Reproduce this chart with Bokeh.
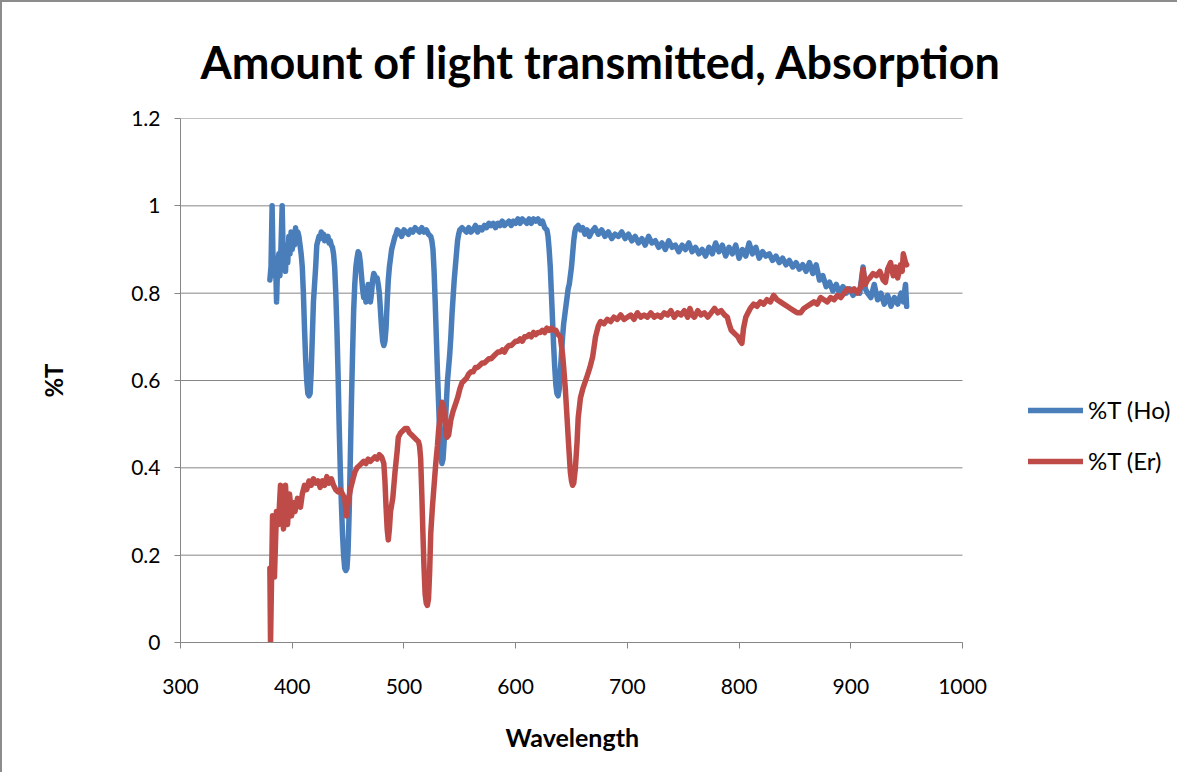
from bokeh.plotting import figure
from bokeh.models import FixedTicker, Legend, LegendItem, Range1d, Title
from bokeh.embed import file_html
from bokeh.resources import INLINE

# ---------------- data ----------------
title_text = "Amount of light transmitted, Absorption"
x_label = "Wavelength"
y_label = "%T"
series_names = ["%T (Ho)", "%T (Er)"]
x_ticks = [300, 400, 500, 600, 700, 800, 900, 1000]
y_ticks = [0, 0.2, 0.4, 0.6, 0.8, 1.0, 1.2]
y_tick_labels = ["0", "0.2", "0.4", "0.6", "0.8", "1", "1.2"]

ho_wl = [380, 381, 382, 383, 384, 385, 386, 387, 388, 389, 390, 391, 392, 393, 394, 395, 396, 397, 398, 399,
         400, 401, 402, 403, 404, 405, 406, 407, 408, 409, 410, 411, 412, 413, 414, 415, 416, 417, 418, 419,
         420, 421, 422, 423, 424, 425, 426, 427, 428, 429, 430, 431, 432, 433, 434, 435, 436, 437, 438, 439,
         440, 441, 442, 443, 444, 445, 446, 447, 448, 449, 450, 451, 452, 453, 454, 455, 456, 457, 458, 459,
         460, 461, 462, 463, 464, 465, 466, 467, 468, 469, 470, 471, 472, 473, 474, 475, 476, 477, 478, 479,
         480, 481, 482, 483, 484, 485, 486, 487, 488, 489, 490, 491, 492, 493, 494, 496, 498, 500, 502, 504,
         506, 508, 510, 512, 514, 516, 518, 520, 522, 524, 525, 526, 527, 528, 529, 530, 531, 532, 533, 534,
         535, 536, 537, 538, 539, 540, 541, 542, 543, 544, 545, 546, 547, 548, 549, 550, 552, 554, 556, 558,
         560, 562, 564, 566, 568, 570, 572, 574, 576, 578, 580, 582, 584, 586, 588, 590, 592, 594, 596, 598,
         600, 602, 604, 606, 608, 610, 612, 614, 616, 618, 620, 622, 624, 626, 628, 629, 630, 631, 632, 633,
         634, 635, 636, 637, 638, 639, 640, 641, 642, 643, 644, 645, 646, 647, 648, 649, 650, 651, 652, 653,
         654, 656, 658, 660, 662, 664, 666, 668, 671, 674, 677, 680, 683, 686, 689, 692, 695, 698, 701, 704,
         707, 710, 713, 716, 719, 722, 725, 728, 731, 734, 737, 740, 743, 746, 749, 752, 755, 758, 761, 764,
         767, 770, 773, 776, 779, 782, 785, 788, 791, 794, 797, 800, 803, 806, 809, 812, 815, 818, 821, 824,
         827, 830, 833, 836, 839, 842, 845, 848, 851, 854, 857, 860, 863, 866, 869, 872, 875, 878, 881, 884,
         887, 890, 893, 896, 899, 902, 905, 908, 911, 913, 915, 918, 921, 924, 927, 930, 933, 936, 939, 942,
         945, 947, 949, 950]
ho_t = [0.83, 0.86, 1.00, 0.85, 0.84, 0.88, 0.78, 0.87, 0.89, 0.84, 0.91, 1.00, 0.88, 0.90, 0.85, 0.91, 0.87, 0.93, 0.89, 0.94,
        0.90, 0.93, 0.91, 0.95, 0.92, 0.94, 0.93, 0.91, 0.89, 0.86, 0.80, 0.72, 0.65, 0.60, 0.57, 0.565, 0.57, 0.62, 0.70, 0.78,
        0.82, 0.86, 0.91, 0.92, 0.93, 0.925, 0.94, 0.93, 0.935, 0.92, 0.93, 0.925, 0.93, 0.915, 0.92, 0.91, 0.905, 0.89, 0.86, 0.80,
        0.72, 0.62, 0.50, 0.40, 0.32, 0.25, 0.20, 0.17, 0.165, 0.17, 0.21, 0.30, 0.42, 0.55, 0.66, 0.76, 0.82, 0.86, 0.88, 0.895,
        0.89, 0.87, 0.84, 0.81, 0.79, 0.81, 0.78, 0.80, 0.82, 0.80, 0.78, 0.80, 0.83, 0.845, 0.84, 0.83, 0.835, 0.82, 0.80, 0.76,
        0.72, 0.69, 0.68, 0.69, 0.72, 0.78, 0.83, 0.86, 0.88, 0.90, 0.91, 0.92, 0.93, 0.935, 0.945, 0.94, 0.93, 0.945, 0.94, 0.935,
        0.945, 0.94, 0.95, 0.945, 0.94, 0.95, 0.94, 0.945, 0.935, 0.93, 0.92, 0.90, 0.85, 0.78, 0.70, 0.62, 0.55, 0.48, 0.43, 0.41,
        0.42, 0.46, 0.50, 0.55, 0.60, 0.63, 0.66, 0.70, 0.75, 0.79, 0.83, 0.86, 0.89, 0.92, 0.935, 0.945, 0.95, 0.945, 0.94, 0.95,
        0.94, 0.945, 0.955, 0.94, 0.95, 0.945, 0.955, 0.95, 0.96, 0.955, 0.96, 0.95, 0.96, 0.955, 0.965, 0.955, 0.96, 0.965, 0.955, 0.965,
        0.96, 0.97, 0.96, 0.97, 0.965, 0.96, 0.97, 0.96, 0.97, 0.965, 0.97, 0.96, 0.965, 0.95, 0.945, 0.93, 0.90, 0.86, 0.80, 0.74,
        0.68, 0.63, 0.59, 0.57, 0.565, 0.58, 0.62, 0.66, 0.70, 0.73, 0.75, 0.77, 0.79, 0.81, 0.82, 0.84, 0.86, 0.89, 0.92, 0.94,
        0.95, 0.955, 0.945, 0.95, 0.935, 0.945, 0.93, 0.94, 0.95, 0.935, 0.945, 0.93, 0.94, 0.925, 0.935, 0.93, 0.94, 0.925, 0.935, 0.92,
        0.93, 0.915, 0.925, 0.91, 0.93, 0.915, 0.92, 0.905, 0.915, 0.90, 0.92, 0.905, 0.91, 0.895, 0.91, 0.90, 0.915, 0.895, 0.905, 0.89,
        0.90, 0.885, 0.905, 0.89, 0.915, 0.895, 0.91, 0.885, 0.905, 0.89, 0.91, 0.88, 0.90, 0.885, 0.915, 0.89, 0.905, 0.88, 0.895, 0.885,
        0.89, 0.875, 0.885, 0.87, 0.88, 0.865, 0.875, 0.86, 0.87, 0.855, 0.865, 0.85, 0.87, 0.845, 0.865, 0.83, 0.84, 0.815, 0.825, 0.805,
        0.82, 0.80, 0.815, 0.80, 0.81, 0.795, 0.805, 0.80, 0.86, 0.81, 0.80, 0.79, 0.82, 0.785, 0.80, 0.775, 0.795, 0.77, 0.79, 0.775,
        0.80, 0.78, 0.82, 0.77]

er_wl = [380, 380.6, 382.4, 384.1, 385.9, 387.7, 389.5, 391, 392.2, 394, 395.8, 397.6, 399.4, 401, 402.5, 404.7, 407.4, 409, 411, 413,
         415, 417, 419, 421, 423, 425, 427, 429, 431, 433, 435, 437, 439, 441, 443, 445, 447, 448.5, 450, 452,
         454, 456, 458, 460, 462, 464, 466, 468, 470, 472, 474, 476, 478, 480, 482, 483, 484, 485, 486, 487,
         488, 490, 492, 494, 495, 497, 499, 501, 503, 505, 507, 509, 511, 513, 514, 515, 516, 517, 518, 519,
         520, 521, 522, 523, 524, 525.5, 527, 528.5, 530, 531, 532.5, 534, 535.5, 537, 538.5, 540, 542, 544, 546, 548,
         550, 552, 554, 556, 558, 560, 562, 564, 566, 568, 570, 572, 574, 576, 578, 580, 582, 584, 586, 588,
         590, 592, 594, 596, 598, 600, 602, 604, 606, 608, 610, 612, 614, 616, 618, 620, 622, 624, 626, 628,
         630, 632, 634, 636, 638, 640, 641, 642, 643, 644.5, 646, 647.5, 649, 650, 651, 652, 653.5, 655, 656, 658,
         660, 662, 664, 666.5, 669, 671.5, 674, 676, 679, 682, 685, 688, 691, 694, 697, 700, 703, 706, 709, 712,
         715, 718, 721, 724, 727, 730, 733, 736, 739, 742, 745, 748, 751, 754, 756, 758, 760, 763, 766, 769,
         772, 775, 778, 781, 784, 787, 789.5, 791, 793, 795, 797, 799, 801, 802.5, 804, 806, 808, 810, 813, 816,
         819, 822, 825, 828, 831, 834, 837, 840, 843, 846, 849, 852, 855, 858, 861, 864, 867, 870, 873, 876,
         879, 882, 885, 888, 891, 894, 897, 900, 903, 906, 909, 911, 913, 915, 917, 920, 923, 926, 929, 931,
         933, 935.6, 938, 940, 942, 944.5, 946, 947, 949, 950]
er_t = [0.17, 0.0, 0.29, 0.15, 0.30, 0.27, 0.36, 0.30, 0.26, 0.36, 0.27, 0.34, 0.29, 0.32, 0.30, 0.33, 0.31, 0.34, 0.36, 0.35,
        0.37, 0.36, 0.375, 0.365, 0.37, 0.355, 0.37, 0.36, 0.38, 0.365, 0.375, 0.36, 0.35, 0.345, 0.35, 0.34, 0.33, 0.29, 0.32, 0.35,
        0.37, 0.39, 0.40, 0.405, 0.41, 0.415, 0.41, 0.42, 0.415, 0.42, 0.425, 0.42, 0.43, 0.425, 0.41, 0.37, 0.31, 0.26, 0.235, 0.26,
        0.30, 0.33, 0.39, 0.44, 0.47, 0.48, 0.485, 0.49, 0.49, 0.48, 0.475, 0.47, 0.465, 0.46, 0.45, 0.42, 0.34, 0.25, 0.17, 0.11,
        0.09, 0.085, 0.10, 0.16, 0.25, 0.31, 0.36, 0.41, 0.45, 0.485, 0.52, 0.55, 0.54, 0.50, 0.47, 0.475, 0.51, 0.53, 0.545, 0.56,
        0.58, 0.595, 0.60, 0.605, 0.615, 0.62, 0.62, 0.63, 0.63, 0.635, 0.64, 0.64, 0.645, 0.65, 0.65, 0.655, 0.66, 0.665, 0.665, 0.67,
        0.665, 0.675, 0.68, 0.68, 0.685, 0.69, 0.69, 0.695, 0.69, 0.70, 0.70, 0.705, 0.70, 0.71, 0.705, 0.71, 0.71, 0.715, 0.71, 0.72,
        0.715, 0.72, 0.715, 0.715, 0.705, 0.70, 0.68, 0.66, 0.63, 0.58, 0.515, 0.45, 0.39, 0.37, 0.36, 0.365, 0.40, 0.46, 0.515, 0.56,
        0.58, 0.595, 0.61, 0.63, 0.655, 0.70, 0.725, 0.735, 0.73, 0.74, 0.735, 0.745, 0.74, 0.75, 0.74, 0.745, 0.75, 0.74, 0.755, 0.745,
        0.75, 0.745, 0.755, 0.745, 0.75, 0.745, 0.755, 0.75, 0.76, 0.745, 0.755, 0.75, 0.76, 0.745, 0.765, 0.75, 0.745, 0.76, 0.75, 0.755,
        0.745, 0.755, 0.765, 0.755, 0.76, 0.75, 0.745, 0.73, 0.715, 0.71, 0.705, 0.70, 0.69, 0.685, 0.72, 0.745, 0.755, 0.765, 0.775, 0.77,
        0.78, 0.775, 0.785, 0.78, 0.795, 0.785, 0.78, 0.775, 0.77, 0.765, 0.76, 0.755, 0.755, 0.765, 0.77, 0.775, 0.78, 0.775, 0.79, 0.785,
        0.78, 0.79, 0.785, 0.795, 0.79, 0.80, 0.81, 0.805, 0.81, 0.80, 0.815, 0.855, 0.82, 0.83, 0.835, 0.845, 0.84, 0.85, 0.83, 0.825,
        0.855, 0.87, 0.84, 0.86, 0.835, 0.865, 0.85, 0.89, 0.87, 0.865]

ho_color = "#4A7EBB"
er_color = "#BE4B48"
grid_color = "#868686"
FONT = "Lato"

# geometry: data area 300..1000 spans 782 px; the frame extends right to host the legend
FIG_W, FIG_H = 1177, 772
LEFT, TOP = 178, 116
FRAME_H = 524
PX_PER_X = 782 / (x_ticks[-1] - x_ticks[0])
BOTTOM = FIG_H - TOP - FRAME_H
x_end = x_ticks[0] + (FIG_W - LEFT) / PX_PER_X

p = figure(width=FIG_W, height=FIG_H, output_backend="svg", toolbar_location=None,
           x_range=Range1d(x_ticks[0], x_end), y_range=Range1d(y_ticks[0], y_ticks[-1]),
           min_border_left=LEFT, min_border_right=0, min_border_top=TOP, min_border_bottom=BOTTOM)
p.styles = {"border-top": "2px solid #8c8c8c", "border-left": "2px solid #8c8c8c"}
p.outline_line_color = None
p.background_fill_color = "white"
p.border_fill_color = "white"

p.title.text = title_text
p.title.text_font = FONT
p.title.text_font_style = "bold"
p.title.text_font_size = "45px"
p.title.text_color = "black"
p.title.align = "left"
p.title.offset = 20
p.title.standoff = 60

p.xgrid.visible = False
p.ygrid.visible = False
# horizontal gridlines over the 300..1000 data area only
p.segment(x0=[x_ticks[0]] * len(y_ticks), x1=[x_ticks[-1]] * len(y_ticks), y0=y_ticks, y1=y_ticks,
          line_color=grid_color, line_width=1)

r_ho = p.line(ho_wl, ho_t, line_color=ho_color, line_width=5.5, line_join="round", line_cap="round")
r_er = p.line(er_wl, er_t, line_color=er_color, line_width=5.5, line_join="round", line_cap="round")

p.xaxis.ticker = FixedTicker(ticks=x_ticks)
p.yaxis.ticker = FixedTicker(ticks=y_ticks)
p.xaxis.bounds = (x_ticks[0], x_ticks[-1])
p.yaxis.major_label_overrides = {t: s for t, s in zip(y_ticks, y_tick_labels)}

for ax in (p.xaxis[0], p.yaxis[0]):
    ax.axis_line_color = grid_color
    ax.axis_line_width = 1
    ax.major_tick_line_color = grid_color
    ax.major_tick_in = 0
    ax.major_tick_out = 6
    ax.minor_tick_line_color = None
    ax.major_label_text_font = FONT
    ax.major_label_text_font_size = "21px"
    ax.major_label_text_color = "black"
    ax.axis_label_text_font = FONT
    ax.axis_label_text_font_style = "bold"
    ax.axis_label_text_font_size = "24px"
    ax.axis_label_text_color = "black"

p.xaxis.major_label_standoff = 30
p.yaxis.axis_label = y_label
p.yaxis.major_label_standoff = 14
p.yaxis.axis_label_standoff = 60

# x-axis label as a below-title so it centres on the 300..1000 area, not the widened frame
xlab = Title(text=x_label, align="left", offset=325, standoff=46,
             text_font=FONT, text_font_style="bold", text_font_size="25px", text_color="black")
p.add_layout(xlab, "below")

legend = Legend(items=[LegendItem(label=series_names[0], renderers=[r_ho]),
                       LegendItem(label=series_names[1], renderers=[r_er])],
                location=(848, 167), orientation="vertical",
                border_line_color=None, background_fill_alpha=0,
                glyph_width=55, glyph_height=20, label_height=20, spacing=22,
                padding=0, margin=0, label_standoff=5,
                label_text_font=FONT, label_text_font_size="24px", label_text_color="black")
p.add_layout(legend)

open("out.html", "w").write(file_html(p, INLINE))
